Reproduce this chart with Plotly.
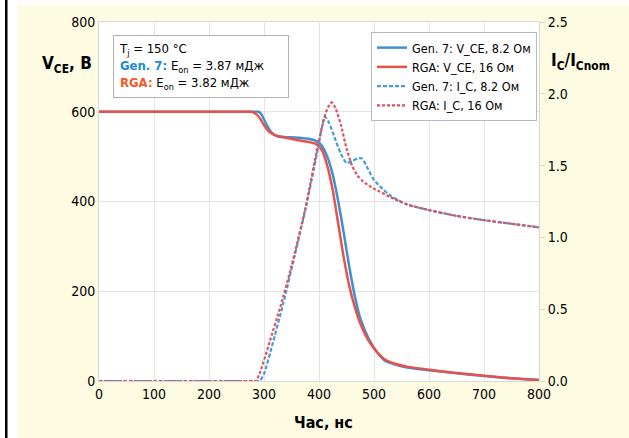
import plotly.graph_objects as go

# ---------------- data ----------------
t_vce_gen7 = [0, 100, 200, 280, 290, 295, 305, 315, 325, 350, 380, 395, 405, 415, 425, 435, 445, 455, 465, 475, 490, 505, 520, 540, 560, 600, 650, 700, 750, 800]
vce_gen7 = [600, 600, 600, 600, 600, 595, 570, 552, 545, 543, 540, 535, 525, 500, 460, 400, 330, 255, 190, 140, 95, 65, 45, 36, 30, 24, 17, 11, 6, 2]

t_vce_rga = [0, 100, 200, 270, 278, 290, 300, 310, 320, 340, 360, 380, 395, 405, 415, 425, 435, 445, 455, 465, 475, 490, 505, 520, 540, 560, 600, 650, 700, 750, 800]
vce_rga = [600, 600, 600, 600, 600, 590, 570, 555, 548, 542, 537, 533, 528, 515, 480, 425, 350, 275, 212, 165, 128, 90, 65, 48, 38, 32, 25, 18, 12, 6, 2]

t_ic_gen7 = [0, 100, 200, 285, 292, 300, 315, 335, 355, 378, 398, 405, 411, 418, 428, 440, 450, 460, 470, 478, 490, 500, 515, 530, 560, 600, 650, 700, 750, 800]
ic_gen7 = [0, 0, 0, 0, 0, 0.05, 0.25, 0.54, 0.86, 1.24, 1.62, 1.76, 1.84, 1.80, 1.70, 1.58, 1.52, 1.53, 1.55, 1.55, 1.47, 1.40, 1.34, 1.29, 1.23, 1.19, 1.15, 1.12, 1.095, 1.07]

t_ic_rga = [0, 100, 200, 278, 285, 292, 310, 330, 350, 375, 398, 410, 417, 423, 430, 440, 450, 460, 470, 480, 495, 510, 530, 560, 600, 650, 700, 750, 800]
ic_rga = [0, 0, 0, 0, 0, 0.05, 0.27, 0.52, 0.80, 1.20, 1.64, 1.84, 1.91, 1.94, 1.90, 1.78, 1.62, 1.50, 1.43, 1.39, 1.35, 1.32, 1.28, 1.23, 1.19, 1.15, 1.12, 1.095, 1.07]

names = ["Gen. 7: V_CE, 8.2 Ом", "RGA: V_CE, 16 Ом", "Gen. 7: I_C, 8.2 Ом", "RGA: I_C, 16 Ом"]
x_ticks = [0, 100, 200, 300, 400, 500, 600, 700, 800]
y_left_ticks = [0, 200, 400, 600, 800]
y_right_ticks = [0.0, 0.5, 1.0, 1.5, 2.0, 2.5]

BLUE = "#3f8fd2"
RED = "#e8524a"
BLUE_D = "#4b9ad8"
RED_D = "#e0505e"
FONT = "DejaVu Sans Condensed, Liberation Sans Narrow, Roboto, sans-serif"

fig = go.Figure()
fig.add_trace(go.Scatter(x=t_vce_gen7, y=vce_gen7, mode="lines", name=names[0],
                         line=dict(color=BLUE, width=2.5, shape="spline", smoothing=0.6)))
fig.add_trace(go.Scatter(x=t_vce_rga, y=vce_rga, mode="lines", name=names[1],
                         line=dict(color=RED, width=2.5, shape="spline", smoothing=0.6)))
fig.add_trace(go.Scatter(x=t_ic_gen7, y=ic_gen7, mode="lines", name=names[2], yaxis="y2",
                         line=dict(color=BLUE_D, width=2.2, dash="4px,2px", shape="spline", smoothing=0.6)))
fig.add_trace(go.Scatter(x=t_ic_rga, y=ic_rga, mode="lines", name=names[3], yaxis="y2",
                         line=dict(color=RED_D, width=2.2, dash="3px,2px", shape="spline", smoothing=0.6)))

L, R, T, B = 99, 90, 22, 57
W, H = 629, 438
pw, ph = W - L - R, H - T - B

def px(xp):
    return (xp - L) / pw

def py(yp):
    return (H - B - yp) / ph

YEL = "#fefbe3"
shapes = [
    dict(type="rect", xref="paper", yref="paper", x0=px(0), x1=px(18), y0=py(H), y1=py(0),
         fillcolor="white", line=dict(width=0), layer="below"),
    dict(type="rect", xref="paper", yref="paper", x0=px(18), x1=px(W), y0=py(5), y1=py(0),
         fillcolor="white", line=dict(width=0), layer="below"),
    dict(type="rect", xref="paper", yref="paper", x0=px(5), x1=px(7.5), y0=py(H), y1=py(0),
         fillcolor="black", line=dict(width=0), layer="above"),
]

annotations = [
    dict(xref="paper", yref="paper", x=px(67), y=py(65), xanchor="center", yanchor="middle",
         text="<b>V<sub>CE</sub>, B</b>", showarrow=False, font=dict(size=17, color="black", family=FONT)),
    dict(xref="paper", yref="paper", x=px(580), y=py(62), xanchor="center", yanchor="middle",
         text="<b>I<sub>C</sub>/I<sub>Cnom</sub></b>", showarrow=False, font=dict(size=17, color="black", family=FONT)),
    dict(xref="paper", yref="paper", x=px(323), y=py(422), xanchor="center", yanchor="middle",
         text="<b>Час, нс</b>", showarrow=False, font=dict(size=16, color="black", family=FONT)),
    dict(xref="paper", yref="paper", x=px(113), y=py(35), xanchor="left", yanchor="top",
         text=("T<sub>j</sub> = 150 °C<br>"
               "<span style='color:#1b8ad6'><b>Gen. 7:</b></span> E<sub>on</sub> = 3.87 мДж<br>"
               "<span style='color:#f05a2a'><b>RGA:</b></span> E<sub>on</sub> = 3.82 мДж"),
         showarrow=False, align="left", width=164, borderpad=5,
         bordercolor="#b0b0b0", borderwidth=1, bgcolor="white",
         font=dict(size=13, color="black", family=FONT)),
]

fig.update_layout(
    width=W, height=H,
    margin=dict(l=L, r=R, t=T, b=B),
    paper_bgcolor=YEL, plot_bgcolor="white",
    font=dict(family=FONT, size=14, color="black"),
    showlegend=True,
    legend=dict(x=px(537), y=py(32), xanchor="right", yanchor="top",
                bgcolor="white", bordercolor="#b8b8c8", borderwidth=1,
                font=dict(size=12.5, family=FONT), tracegroupgap=0, itemwidth=30),
    xaxis=dict(range=[0, 800], tickvals=x_ticks, showgrid=True, gridcolor="#e4e4e4",
               zeroline=False, showline=True, linecolor="#d8d8d8", mirror=True,
               ticks="", tickfont=dict(size=14)),
    yaxis=dict(range=[0, 800], tickvals=y_left_ticks, showgrid=True, gridcolor="#e4e4e4",
               zeroline=False, showline=True, linecolor="#d8d8d8", mirror=True,
               ticks="", tickfont=dict(size=14)),
    yaxis2=dict(range=[0, 2.5], tickvals=y_right_ticks, tickformat=".1f", overlaying="y",
                side="right", showgrid=False, zeroline=False, showline=False,
                ticks="outside", ticklen=5, tickcolor="#d8d8d8", tickfont=dict(size=14)),
    shapes=shapes,
    annotations=annotations,
)

fig.write_html("out.html", config={"displayModeBar": False},
               post_script="document.body.style.margin='0px';")
